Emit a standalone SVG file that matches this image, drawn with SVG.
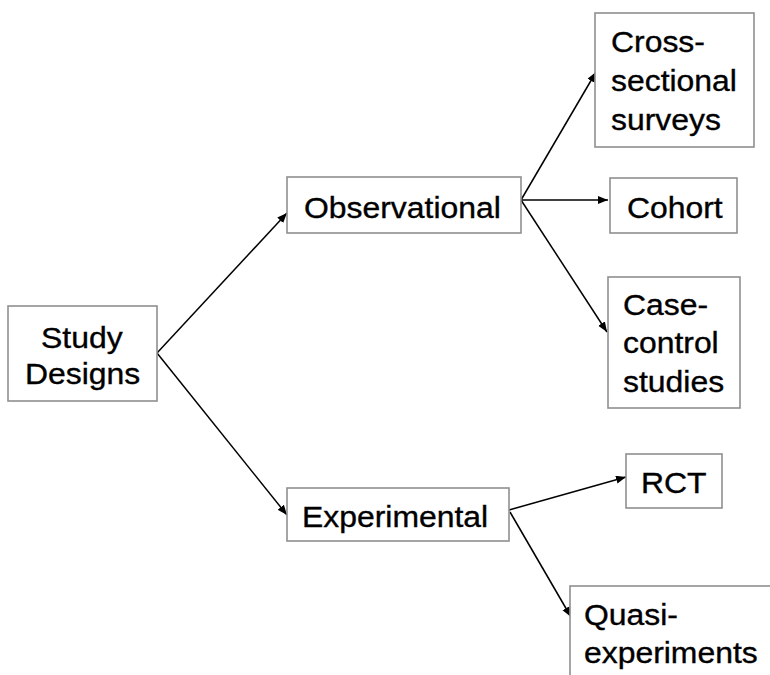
<svg xmlns="http://www.w3.org/2000/svg" width="770" height="675" viewBox="0 0 770 675">
  <style>
    .box { fill: #ffffff; stroke: #8f8f8f; stroke-width: 1.6; }
    .lbl { font-family: "Liberation Sans", Arial, sans-serif; font-size: 29px; fill: #000000; stroke: #000000; stroke-width: 0.35; }
    .edge { stroke: #000000; stroke-width: 1.5; fill: none; marker-end: url(#arrow); }
  </style>
  <defs>
    <marker id="arrow" markerUnits="userSpaceOnUse" markerWidth="11" markerHeight="9" refX="10" refY="4" orient="auto">
      <path d="M0,0 L10,4 L0,8 z" fill="#000000"/>
    </marker>
  </defs>
  <rect width="770" height="675" fill="#ffffff"/>

  <g id="connectors">
    <line class="edge" x1="157" y1="353" x2="287" y2="213"/>
    <line class="edge" x1="157" y1="353" x2="287" y2="515"/>
    <line class="edge" x1="521" y1="200" x2="596" y2="72"/>
    <line class="edge" x1="521" y1="200" x2="608" y2="200"/>
    <line class="edge" x1="521" y1="200" x2="607" y2="332"/>
    <line class="edge" x1="509" y1="510" x2="626" y2="477"/>
    <line class="edge" x1="510" y1="512" x2="571" y2="617"/>
  </g>

  <g id="study-designs">
    <rect class="box" x="8" y="306" width="149" height="95"/>
    <text class="lbl" x="41" y="348" textLength="81.6" lengthAdjust="spacingAndGlyphs">Study</text>
    <text class="lbl" x="25" y="384" textLength="115.2" lengthAdjust="spacingAndGlyphs">Designs</text>
  </g>

  <g id="observational">
    <rect class="box" x="287" y="177" width="234" height="56"/>
    <text class="lbl" x="304" y="218" textLength="196.8" lengthAdjust="spacingAndGlyphs">Observational</text>
  </g>

  <g id="experimental">
    <rect class="box" x="287" y="488" width="222" height="53"/>
    <text class="lbl" x="302" y="527" textLength="186.1" lengthAdjust="spacingAndGlyphs">Experimental</text>
  </g>

  <g id="cross-sectional">
    <rect class="box" x="595" y="13" width="159" height="134"/>
    <text class="lbl" x="611" y="52" textLength="93.9" lengthAdjust="spacingAndGlyphs">Cross-</text>
    <text class="lbl" x="611" y="91" textLength="125.9" lengthAdjust="spacingAndGlyphs">sectional</text>
    <text class="lbl" x="611" y="130" textLength="109.9" lengthAdjust="spacingAndGlyphs">surveys</text>
  </g>

  <g id="cohort">
    <rect class="box" x="610" y="178" width="127" height="55"/>
    <text class="lbl" x="627" y="218" textLength="95.7" lengthAdjust="spacingAndGlyphs">Cohort</text>
  </g>

  <g id="case-control">
    <rect class="box" x="608" y="277" width="132" height="131"/>
    <text class="lbl" x="623" y="315" textLength="85.1" lengthAdjust="spacingAndGlyphs">Case-</text>
    <text class="lbl" x="623" y="353" textLength="95.7" lengthAdjust="spacingAndGlyphs">control</text>
    <text class="lbl" x="623" y="392" textLength="101.1" lengthAdjust="spacingAndGlyphs">studies</text>
  </g>

  <g id="rct">
    <rect class="box" x="626" y="454" width="96" height="54"/>
    <text class="lbl" x="641" y="493" textLength="65.6" lengthAdjust="spacingAndGlyphs">RCT</text>
  </g>

  <g id="quasi-experiments">
    <rect class="box" x="570" y="586" width="230" height="120"/>
    <text class="lbl" x="584" y="625" textLength="93.9" lengthAdjust="spacingAndGlyphs">Quasi-</text>
    <text class="lbl" x="584" y="663" textLength="173.7" lengthAdjust="spacingAndGlyphs">experiments</text>
  </g>
</svg>
